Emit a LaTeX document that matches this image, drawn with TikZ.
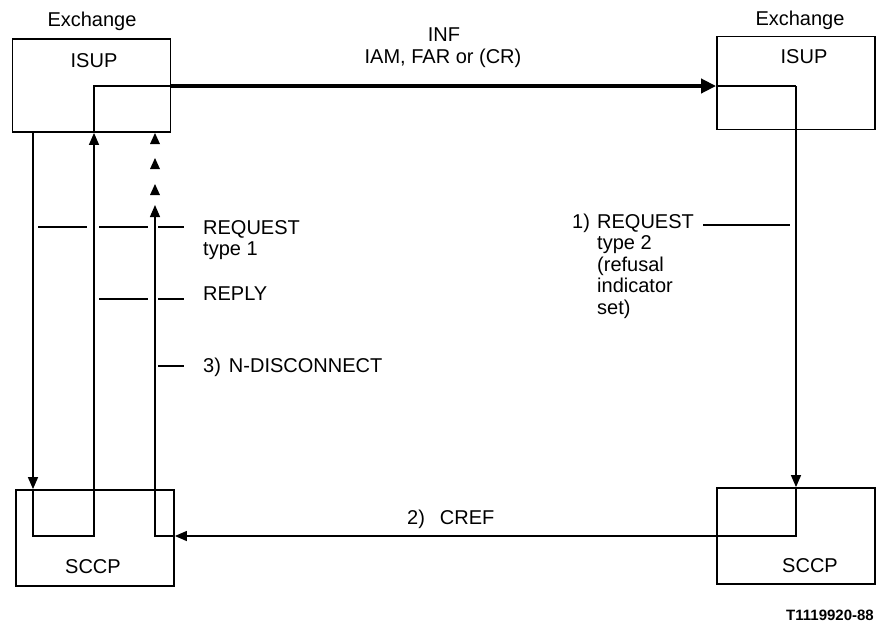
\documentclass[tikz,border=0pt]{standalone}
\usepackage{fontspec}
\setmainfont{Liberation Sans}
\usetikzlibrary{arrows.meta}
\usetikzlibrary{calc}

\tikzset{
  unit/.style={rectangle, draw, line width=1.8pt, inner sep=0pt, minimum width=158pt, minimum height=93pt},
  msg/.style={line width=1.3pt},
  arr/.style={msg, -{Triangle[width=10pt,length=12pt]}},
  bigarr/.style={line width=4.5pt, -{Triangle[width=14pt,length=15pt]}},
  lbl/.style={inner sep=0pt, font=\fontsize{20}{21.5}\selectfont, align=left},
}

\begin{document}
\begin{tikzpicture}[x=1pt, y=-1pt]
  \useasboundingbox (0,0) rectangle (876,622);

  % exchanges
  \node[unit] (isupA) at (91.5,85.5) {};
  \node[unit] (isupB) at (796,83) {};
  \node[unit, minimum height=96pt] (sccpA) at (95,538) {};
  \node[unit, minimum height=96pt] (sccpB) at (796,536) {};

  \node[lbl, anchor=base] (exA) at (92,26) {Exchange};
  \node[lbl, anchor=base] (exB) at (800,25) {Exchange};
  \node[lbl, anchor=base] (isupAtxt) at (94,67) {ISUP};
  \node[lbl, anchor=base] (isupBtxt) at (804,63) {ISUP};
  \node[lbl, anchor=base] (sccpAtxt) at (93,573) {SCCP};
  \node[lbl, anchor=base] (sccpBtxt) at (810,572) {SCCP};

  % line positions
  \coordinate (xa) at (33,0);
  \coordinate (xb) at (94,0);
  \coordinate (xc) at (155,0);
  \coordinate (xd) at (796,0);
  \coordinate (yout) at (0,86);
  \coordinate (yin) at (0,536);

  % left loop and INF
  \draw[arr] (isupA.south -| xa) -- (sccpA.north -| xa);
  \draw[arr] (sccpA.north -| xa) -- (xa |- yin) -- (xb |- yin) -- (isupA.south -| xb);
  \draw[msg] (isupA.south -| xb) -- (xb |- yout) -- (isupA.east |- yout);
  \draw[bigarr] (isupA.east |- yout) -- (isupB.west |- yout);
  \node[lbl, anchor=base] (inf) at (444,41) {INF};
  \node[lbl, anchor=base] (iam) at (443,63) {IAM, FAR or (CR)};

  % right side and CREF
  \draw[msg] (isupB.west |- yout) -- (xd |- yout);
  \draw[arr] (xd |- yout) -- (sccpB.north -| xd);
  \draw[msg] (sccpB.north -| xd) -- (xd |- yin) -- (sccpB.west |- yin);
  \draw[arr] (sccpB.west |- yin) -- (sccpA.east |- yin);
  \node[lbl, anchor=base west] (cref) at (407,524) {2)\hspace{15pt}CREF};
  \draw[arr] (sccpA.east |- yin) -- (xc |- yin) -- ($(xc)+(0,205)$);
  \foreach \ty in {133,158,184}
    \fill ($(xc)+(0,\ty)$) -- ++(-5,11) -- ++(10,0) -- cycle;

  % primitives
  \node[lbl, anchor=base west] (req1) at (203,255.5) {REQUEST\\type 1};
  \node[lbl, anchor=base west] (rep) at (203,300) {REPLY};
  \node[lbl, anchor=base west] (disc) at (203,372) {3)\hspace{8pt}N-DISCONNECT};
  \node[lbl, anchor=base west] (num1) at (572,228) {1)};
  \node[lbl, anchor=base west] (req2) at (597,314) {REQUEST\\type 2\\(refusal\\indicator\\set)};

  \coordinate (tReq) at (0,227);
  \coordinate (tRep) at (0,299);
  \coordinate (tDisc) at (0,366);
  \coordinate (tReq2) at (0,225);
  \draw[msg] ($(xa |- tReq)+(5,0)$) -- ($(xb |- tReq)+(-7,0)$);
  \draw[msg] ($(xb |- tReq)+(5,0)$) -- ($(xc |- tReq)+(-7,0)$);
  \draw[msg] ($(xc |- tReq)+(3,0)$) -- ($(xc |- tReq)+(29,0)$);
  \draw[msg] ($(xb |- tRep)+(5,0)$) -- ($(xc |- tRep)+(-7,0)$);
  \draw[msg] ($(xc |- tRep)+(3,0)$) -- ($(xc |- tRep)+(29,0)$);
  \draw[msg] ($(xc |- tDisc)+(3,0)$) -- ($(xc |- tDisc)+(29,0)$);
  \draw[msg] ($(xd |- tReq2)+(-93,0)$) -- ($(xd |- tReq2)+(-6,0)$);

  \node[lbl, anchor=base east, font=\bfseries\fontsize{15}{17}\selectfont] (tag) at (874,620) {T1119920-88};
\end{tikzpicture}
\end{document}
